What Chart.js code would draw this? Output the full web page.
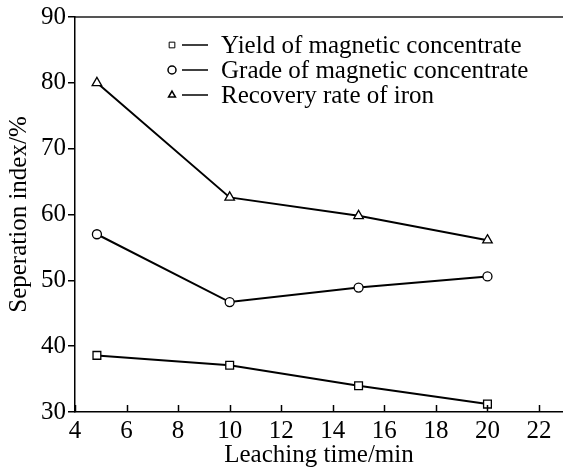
<!DOCTYPE html>
<html lang="en">
<head>
    <meta charset="UTF-8">
    <title>Seperation index vs leaching time</title>
    <script src="https://cdn.jsdelivr.net/npm/chart.js"></script>
    <style>
        body {
            margin: 0;
            padding: 0;
            background-color: #fff;
        }
        .chart-container {
            width: 563px;
            height: 470px;
        }
    </style>
</head>
<body>
    <div class="chart-container">
        <canvas id="sep-chart"></canvas>
    </div>

    <script>
        // values
        const leachTime = [4.85, 10, 15, 20];
        const yieldMag = [38.6, 37.1, 34.0, 31.2];
        const gradeMag = [57.0, 46.7, 48.9, 50.6];
        const recoveryFe = [80.0, 62.6, 59.8, 56.1];

        const seriesNames = ['Yield of magnetic concentrate', 'Grade of magnetic concentrate', 'Recovery rate of iron'];
        const seriesStyles = ['rect', 'circle', 'triangle'];

        const xTicks = [4, 6, 8, 10, 12, 14, 16, 18, 20, 22];
        const yTicks = [30, 40, 50, 60, 70, 80, 90];

        const FONT = 'Liberation Serif, Times New Roman, serif';

        function makeSet(name, values, style) {
            return {
                label: name,
                data: leachTime.map((t, i) => ({ x: t, y: values[i] })),
                borderColor: '#000',
                borderWidth: 2,
                backgroundColor: '#fff',
                pointStyle: style,
                pointRadius: style === 'circle' ? 4.5 : 5.5,
                pointBorderWidth: 1.3,
                pointBorderColor: '#000',
                pointBackgroundColor: '#fff',
                tension: 0
            };
        }

        // small ticks pointing into the plot along the bottom axis
        const innerTicks = {
            id: 'innerTicks',
            afterDraw(chart) {
                const ctx = chart.ctx;
                const xs = chart.scales.x;
                const bottom = chart.chartArea.bottom;
                ctx.save();
                ctx.strokeStyle = '#000';
                ctx.lineWidth = 1.5;
                xTicks.forEach(t => {
                    const px = Math.round(xs.getPixelForValue(t)) + 0.5;
                    ctx.beginPath();
                    ctx.moveTo(px, bottom);
                    ctx.lineTo(px, bottom - 7);
                    ctx.stroke();
                });
                ctx.restore();
            }
        };

        // legend: open marker, short line, label
        const markerLegend = {
            id: 'markerLegend',
            afterDraw(chart) {
                const ctx = chart.ctx;
                ctx.save();
                ctx.textBaseline = 'middle';
                chart.data.datasets.forEach((ds, i) => {
                    const y = 45 + i * 25;
                    ctx.fillStyle = '#fff';
                    ctx.strokeStyle = '#000';
                    Chart.helpers.drawPoint(ctx, {
                        pointStyle: ds.pointStyle,
                        radius: 4,
                        borderWidth: 1.2
                    }, 172, y);
                    ctx.lineWidth = 1.5;
                    ctx.beginPath();
                    ctx.moveTo(182, y);
                    ctx.lineTo(208, y);
                    ctx.stroke();
                    ctx.font = '25px ' + FONT;
                    ctx.fillStyle = '#000';
                    ctx.fillText(ds.label, 221, y + 1);
                });
                ctx.restore();
            }
        };

        const ctx = document.getElementById('sep-chart').getContext('2d');
        new Chart(ctx, {
            type: 'line',
            data: {
                datasets: [
                    makeSet(seriesNames[0], yieldMag, seriesStyles[0]),
                    makeSet(seriesNames[1], gradeMag, seriesStyles[1]),
                    makeSet(seriesNames[2], recoveryFe, seriesStyles[2])
                ]
            },
            options: {
                responsive: true,
                maintainAspectRatio: false,
                animation: false,
                layout: { autoPadding: false, padding: 0 },
                plugins: {
                    legend: { display: false },
                    tooltip: { enabled: false }
                },
                scales: {
                    x: {
                        type: 'linear',
                        min: 4,
                        max: 22.93,
                        afterBuildTicks: s => { s.ticks = xTicks.map(v => ({ value: v })); },
                        afterFit: s => { s.height = 58; },
                        grid: { display: false, drawTicks: false },
                        border: { color: '#000', width: 1.5 },
                        ticks: {
                            color: '#000',
                            padding: 4,
                            maxRotation: 0,
                            font: { family: FONT, size: 25 }
                        },
                        title: {
                            display: true,
                            text: 'Leaching time/min',
                            color: '#000',
                            padding: { top: -4, bottom: 0 },
                            font: { family: FONT, size: 25 }
                        }
                    },
                    xTop: {
                        type: 'linear',
                        position: 'top',
                        min: 4,
                        max: 22.93,
                        afterFit: s => { s.height = 15; },
                        grid: { display: false, drawTicks: false },
                        border: { color: '#555', width: 2 },
                        ticks: { display: false }
                    },
                    y: {
                        min: 30,
                        max: 90,
                        afterBuildTicks: s => { s.ticks = yTicks.map(v => ({ value: v })); },
                        afterFit: s => { s.width = 75; },
                        grid: { drawOnChartArea: false, tickLength: 7, color: '#000', lineWidth: 1.5 },
                        border: { color: '#000', width: 1.5 },
                        ticks: {
                            color: '#000',
                            padding: 2,
                            font: { family: FONT, size: 25 }
                        },
                        title: {
                            display: true,
                            text: 'Seperation index/%',
                            color: '#000',
                            padding: { top: 4, bottom: 0 },
                            font: { family: FONT, size: 25 }
                        }
                    }
                }
            },
            plugins: [innerTicks, markerLegend]
        });
    </script>
</body>
</html>
